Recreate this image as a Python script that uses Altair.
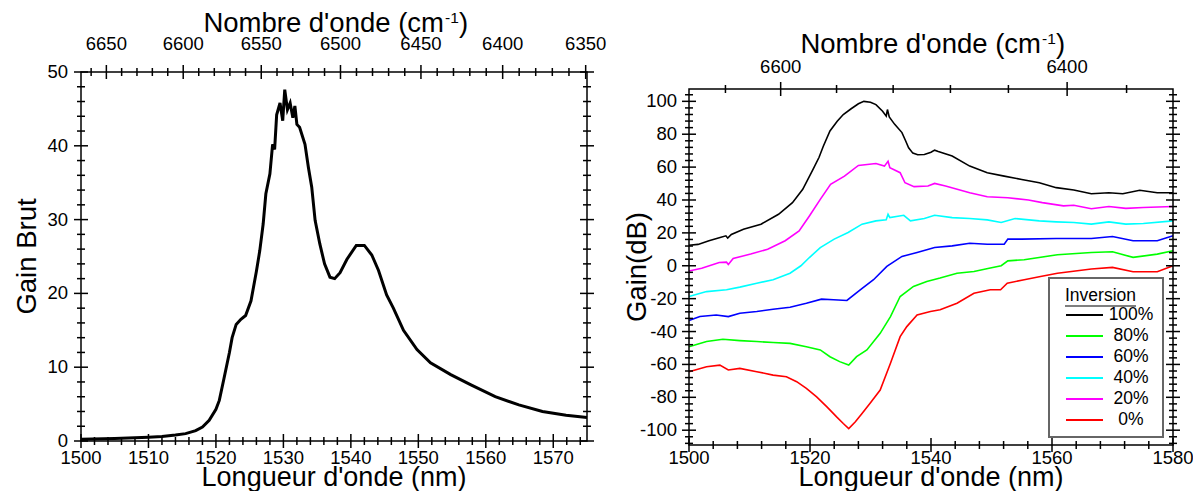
import altair as alt
import pandas as pd

FONT = "Liberation Sans"

# ---------------- data: left panel (Gain Brut) ----------------
wl_brut = [1500, 1505, 1510, 1512, 1514, 1515.5, 1517, 1518, 1519, 1520, 1520.5, 1521.2,
           1522, 1522.4, 1523, 1523.7, 1524.4, 1525.2, 1526, 1526.5, 1527, 1527.4, 1528,
           1528.4, 1528.7, 1529, 1529.5, 1529.9, 1530.2, 1530.6, 1531, 1531.4, 1531.7, 1532,
           1532.4, 1533.2, 1533.7, 1534.2, 1534.7, 1535.4, 1536.1, 1536.9, 1537.6, 1538.4,
           1539.4, 1540.8, 1542, 1543.1, 1544.1, 1545.3, 1546.3, 1547.8, 1549.8, 1551.8,
           1554.8, 1557.8, 1561.4, 1564.9, 1568.4, 1571.9, 1575]
gain_brut = [0.25, 0.35, 0.5, 0.6, 0.8, 1.0, 1.4, 1.9, 2.8, 4.3, 5.5, 8.5,
             12.0, 14.0, 15.8, 16.5, 17.0, 19.0, 23.0, 25.8, 29.4, 33.5, 36.2,
             40.2, 39.5, 44.2, 45.8, 43.4, 47.6, 44.9, 45.8, 43.8, 45.4, 42.9,
             42.5, 40.2, 37.1, 34.4, 29.9, 26.7, 24.0, 22.2, 22.0, 22.8,
             24.6, 26.5, 26.5, 25.2, 23.1, 19.8, 18.0, 15.0, 12.4, 10.6,
             9.0, 7.6, 6.0, 4.9, 4.0, 3.5, 3.2]

# ---------------- data: right panel (Gain dB) ----------------
wl_100 = [1500, 1501.5, 1503.3, 1505, 1506.1, 1506.4, 1507, 1509, 1511.9, 1514.8, 1517.1,
          1518.8, 1520.5, 1521.5, 1522.2, 1523.3, 1524.5, 1525.5, 1526.8, 1528, 1528.9, 1530,
          1530.9, 1532, 1532.6, 1532.8, 1533.1, 1534, 1535.2, 1535.8, 1536.3, 1537, 1537.8,
          1538.9, 1540, 1540.6, 1541.2, 1543.5, 1546.4, 1549.3, 1552.1, 1555, 1557.9,
          1560.7, 1563.6, 1566.5, 1569.4, 1571.7, 1574.5, 1577.4, 1580]
g_100 = [12.5, 13, 15.2, 17, 18.2, 16.8, 19, 22.2, 25.3, 31.3, 38.4,
         46.5, 58.6, 66, 72.7, 82, 87.9, 92, 95.5, 98.5, 100, 99.5,
         98, 94, 91, 95, 90.5, 86, 81, 76, 71.7, 68.5, 67.5,
         67.7, 69, 70.3, 69.5, 66.7, 60.6, 56.6, 54.5, 52.5, 50.5,
         47.5, 46.1, 43.8, 44.4, 43.8, 45.9, 44.4, 44.4]

wl_20 = [1500, 1502.1, 1505, 1506.2, 1506.5, 1507.3, 1510.2, 1513, 1515.9, 1518.2, 1519.9,
         1521.7, 1523.4, 1525.7, 1528, 1530.9, 1532.3, 1532.9, 1533.2, 1534.9, 1535.7, 1537.2,
         1539.5, 1540.6, 1542.4, 1546.4, 1549.3, 1552.7, 1556.1, 1558.4, 1561.9, 1563.6,
         1566.5, 1569.4, 1572.2, 1575.1, 1580]
g_20 = [-3.2, -1.5, 2, 2.2, 0.8, 4.4, 7.1, 10.1, 15.2, 21.2, 30.3,
        40.4, 49.5, 54.5, 61, 62.2, 60.6, 63.6, 59.6, 56.6, 50.5, 48.1,
        48.5, 50.1, 48.5, 44.4, 42, 41.4, 40, 38.4, 36.4, 36.8,
        34.7, 36, 34.9, 35.4, 36]

wl_40 = [1500, 1502.9, 1506.2, 1508.4, 1511.2, 1513.9, 1516.7, 1518.5, 1519.9, 1521.7, 1524,
         1526.3, 1528.6, 1530.9, 1532.6, 1532.9, 1533.2, 1535.5, 1536.6, 1538.9, 1540.6,
         1543.5, 1546.4, 1549.3, 1551.6, 1553.9, 1557.9, 1560.7, 1563.6, 1566.5, 1569.4,
         1572.2, 1575.1, 1580]
g_40 = [-18.7, -15.7, -14.6, -13, -10.6, -8.5, -4.5, 0, 5, 11, 16.2,
        20.2, 25.3, 27.3, 28, 31.3, 29.3, 30.7, 27.3, 28.7, 30.7,
        29.3, 28.7, 27.9, 26.3, 28.7, 27.3, 26.7, 26.3, 25.3, 26.7,
        25.3, 25.7, 27.3]

wl_60 = [1500, 1501.8, 1504.5, 1506.5, 1508.4, 1511.2, 1513.9, 1516.7, 1519.4, 1521.9,
         1523.9, 1526.1, 1528.3, 1530.5, 1532.7, 1535.2, 1537.7, 1540.6, 1543.5, 1546.4,
         1549.3, 1552.1, 1552.7, 1555, 1560.7, 1566.5, 1570, 1573.4, 1577.4, 1580]
g_60 = [-33.3, -30.9, -29.9, -30.9, -28.9, -27.8, -26.4, -25.2, -22.8, -20.3,
        -20.7, -21.1, -14.6, -8.5, -0.4, 5.7, 8.1, 11.1, 12.1, 13.7,
        13.1, 13.1, 16.2, 16.2, 16.6, 16.6, 17.8, 15.2, 15.2, 18.2]

wl_80 = [1500, 1502.9, 1505.6, 1508.4, 1511.2, 1513.9, 1516.7, 1519.4, 1521.7, 1523.3,
         1524.9, 1526.4, 1527.7, 1529.4, 1531.6, 1533.3, 1534.9, 1537.1, 1539.3, 1541.5,
         1544.3, 1547.1, 1549.8, 1551.6, 1552.7, 1555.4, 1560.9, 1566.5, 1570, 1573.4,
         1577.4, 1580]
g_80 = [-49.2, -46.1, -44.7, -45.5, -46.1, -46.7, -47.2, -49.2, -51.2, -55.3,
        -58.3, -60.4, -55.3, -51.2, -41.1, -30.9, -18.7, -12.6, -9.6, -7.5,
        -4.5, -3.5, -1.4, 0, 3, 3.7, 6.7, 8.1, 8.5, 5.1,
        7.1, 9.1]

wl_0 = [1500, 1502.9, 1505.1, 1506.5, 1508.4, 1511.2, 1513.9, 1516.1, 1517.8, 1519.4,
        1521.1, 1522.8, 1524.4, 1525.5, 1526.4, 1527.5, 1528.6, 1529.9, 1531.6, 1533.3,
        1534.9, 1536, 1537.7, 1539.9, 1541.5, 1544.3, 1547.1, 1549.8, 1551.5, 1552.6,
        1555.4, 1558.1, 1560.9, 1566.5, 1570, 1573.4, 1577.4, 1580]
g_0 = [-64.4, -61.4, -60.4, -63.4, -62.4, -64.4, -66.5, -67.5, -70.5, -74.6,
       -79.7, -85.8, -91.9, -95.9, -99, -94.9, -89.8, -83.7, -75.6, -59.3,
       -43.1, -37, -29.9, -27.8, -26.8, -22.8, -16.7, -14.6, -14.6, -10.6,
       -8.5, -6.5, -4.5, -2, -1, -3.6, -3.6, 0]

series_names = ["100%", "80%", "60%", "40%", "20%", "0%"]
series_colors = ["#000000", "#00ff00", "#0000ff", "#00ffff", "#ff00ff", "#ff0000"]
series_wl = [wl_100, wl_80, wl_60, wl_40, wl_20, wl_0]
series_g = [g_100, g_80, g_60, g_40, g_20, g_0]

# ---------------- tick values ----------------
L_X_MAJOR = [1500, 1510, 1520, 1530, 1540, 1550, 1560, 1570]
L_X_MINOR = [v for v in range(1502, 1576, 2) if v % 10]
L_Y_MAJOR = [0, 10, 20, 30, 40, 50]
L_Y_MINOR = [v for v in range(2, 50, 2) if v % 10]
L_NU_MAJOR = [6650, 6600, 6550, 6500, 6450, 6400, 6350]
L_NU_MINOR = [v for v in range(6660, 6349, -10) if v % 50]

R_X_MAJOR = [1500, 1520, 1540, 1560, 1580]
R_X_MINOR = [v for v in range(1504, 1580, 4) if v % 20]
R_Y_MAJOR = [-100, -80, -60, -40, -20, 0, 20, 40, 60, 80, 100]
R_Y_MINOR = [v for v in range(-108, 108, 4) if v % 20]
R_NU_MAJOR = [6600, 6400]
R_NU_MINOR = [6640, 6560, 6520, 6480, 6440, 6360]

L_XDOM, L_YDOM = [1500, 1575], [0, 50]
R_XDOM, R_YDOM = [1500, 1580], [-109, 107.5]

# ---------------- layout (pixels inside the view) ----------------
W, H = 1185, 483
L_XR, L_YR = [73, 579], [433, 64]
R_XR, R_YR = [681, 1165], [437, 81]
MAJ, MIN = 7, 4
TW = 1.5
TICK_FS = 18.5
TITLE_FS = 27.5
XTITLE_FS = 27


def xticks(vals, xs, y0, half, nu=False):
    ch = alt.Chart(pd.DataFrame({"v": vals}))
    f = "v"
    if nu:
        ch = ch.transform_calculate(wl="1e7/datum.v")
        f = "wl"
    return ch.mark_rule(color="black", strokeWidth=TW).encode(
        x=alt.X(f"{f}:Q", scale=xs, axis=None),
        y=alt.value(y0 - half), y2=alt.value(y0 + half))


def yticks(vals, ys, x0, half):
    return alt.Chart(pd.DataFrame({"v": vals})).mark_rule(color="black", strokeWidth=TW).encode(
        y=alt.Y("v:Q", scale=ys, axis=None),
        x=alt.value(x0 - half), x2=alt.value(x0 + half))


def xlabels(vals, xs, y, nu=False, size=TICK_FS):
    ch = alt.Chart(pd.DataFrame({"v": vals, "t": [str(v) for v in vals]}))
    f = "v"
    if nu:
        ch = ch.transform_calculate(wl="1e7/datum.v")
        f = "wl"
    return ch.mark_text(font=FONT, fontSize=size, align="center", baseline="middle", color="black").encode(
        x=alt.X(f"{f}:Q", scale=xs, axis=None), y=alt.value(y), text="t:N")


def ylabels(vals, ys, x, size=TICK_FS):
    return alt.Chart(pd.DataFrame({"v": vals, "t": [str(v) for v in vals]})).mark_text(
        font=FONT, fontSize=size, align="right", baseline="middle", color="black").encode(
        y=alt.Y("v:Q", scale=ys, axis=None), x=alt.value(x), text="t:N")


def frame(xs, ys, xd, yd):
    df = pd.DataFrame({"x0": [xd[0]], "x1": [xd[1]], "y0": [yd[0]], "y1": [yd[1]]})
    return alt.Chart(df).mark_rect(fillOpacity=0, stroke="black", strokeWidth=TW).encode(
        x=alt.X("x0:Q", scale=xs, axis=None), x2="x1:Q",
        y=alt.Y("y0:Q", scale=ys, axis=None), y2="y1:Q")


def text(t, x, y, size, angle=0, align="center", baseline="middle"):
    return alt.Chart(pd.DataFrame({"t": [t]})).mark_text(
        font=FONT, fontSize=size, align=align, baseline=baseline, angle=angle, color="black").encode(
        x=alt.value(x), y=alt.value(y), text="t:N")


def nu_title(cx, yb):
    # "Nombre d'onde (cm" + superscript "-1" + ")"; yb = alphabetic baseline
    return [text("Nombre d'onde (cm", cx + 110, yb, TITLE_FS, align="right", baseline="alphabetic"),
            text("-1", cx + 111, yb - 9, 15.5, align="left", baseline="alphabetic"),
            text(")", cx + 125, yb, TITLE_FS, align="left", baseline="alphabetic")]


def axes_decor(xs, ys, xd, yd, xr, yr, xmaj, xmin, ymaj, ymin, numaj, numin):
    bottom, top = yr[0], yr[1]
    left, right = xr[0], xr[1]
    return [
        frame(xs, ys, xd, yd),
        xticks(xmaj, xs, bottom, MAJ), xticks(xmin, xs, bottom, MIN),
        xticks(numaj, xs, top, MAJ, nu=True), xticks(numin, xs, top, MIN, nu=True),
        yticks(ymaj, ys, left, MAJ), yticks(ymin, ys, left, MIN),
        yticks(ymaj, ys, right, MAJ), yticks(ymin, ys, right, MIN),
    ]


# ---------------- left panel ----------------
lxs = alt.Scale(domain=L_XDOM, range=L_XR, nice=False, zero=False)
lys = alt.Scale(domain=L_YDOM, range=L_YR, nice=False, zero=False)
left_line = alt.Chart(pd.DataFrame({"wl": wl_brut, "g": gain_brut})).mark_line(
    color="black", strokeWidth=3).encode(
    x=alt.X("wl:Q", scale=lxs, axis=None), y=alt.Y("g:Q", scale=lys, axis=None))
lcx = (L_XR[0] + L_XR[1]) / 2
left = alt.layer(
    left_line,
    *axes_decor(lxs, lys, L_XDOM, L_YDOM, L_XR, L_YR, L_X_MAJOR, L_X_MINOR,
                L_Y_MAJOR, L_Y_MINOR, L_NU_MAJOR, L_NU_MINOR),
    xlabels(L_X_MAJOR, lxs, 450),
    ylabels(L_Y_MAJOR, lys, 60),
    xlabels(L_NU_MAJOR, lxs, 36, nu=True),
    text("Longueur d'onde (nm)", lcx, 477.5, XTITLE_FS, baseline="alphabetic"),
    text("Gain Brut", 20, (L_YR[0] + L_YR[1]) / 2, TITLE_FS, angle=270),
    *nu_title(lcx, 24),
)

# ---------------- right panel ----------------
rxs = alt.Scale(domain=R_XDOM, range=R_XR, nice=False, zero=False)
rys = alt.Scale(domain=R_YDOM, range=R_YR, nice=False, zero=False)
rows = []
for name, wls, gs in zip(series_names, series_wl, series_g):
    for w_, g_ in zip(wls, gs):
        rows.append({"wl": w_, "g": g_, "s": name})
right_lines = alt.Chart(pd.DataFrame(rows)).mark_line(strokeWidth=1.6).encode(
    x=alt.X("wl:Q", scale=rxs, axis=None),
    y=alt.Y("g:Q", scale=rys, axis=None),
    color=alt.Color("s:N", scale=alt.Scale(domain=series_names, range=series_colors), legend=None),
    detail="s:N")
rcx = (R_XR[0] + R_XR[1]) / 2
right = alt.layer(
    right_lines,
    *axes_decor(rxs, rys, R_XDOM, R_YDOM, R_XR, R_YR, R_X_MAJOR, R_X_MINOR,
                R_Y_MAJOR, R_Y_MINOR, R_NU_MAJOR, R_NU_MINOR),
    xlabels(R_X_MAJOR, rxs, 450),
    ylabels(R_Y_MAJOR, rys, 669),
    xlabels(R_NU_MAJOR, rxs, 59, nu=True),
    text("Longueur d'onde (nm)", rcx, 477.5, XTITLE_FS, baseline="alphabetic"),
    text("Gain(dB)", 630, (R_YR[0] + R_YR[1]) / 2, TITLE_FS, angle=270),
    *nu_title(rcx, 45),
)

# ---------------- legend (manual box) ----------------
leg_df = pd.DataFrame({"s": series_names, "row": list(range(len(series_names)))})
leg_y = alt.Scale(domain=[0, 5], range=[307, 412])
leg_box = alt.Chart(pd.DataFrame({"a": [0]})).mark_rect(
    fill="white", stroke="#666666", strokeWidth=2).encode(
    x=alt.value(1041), x2=alt.value(1155), y=alt.value(270), y2=alt.value(429))
leg_lines = alt.Chart(leg_df).mark_rule(strokeWidth=2).encode(
    y=alt.Y("row:Q", scale=leg_y, axis=None),
    x=alt.value(1058), x2=alt.value(1095),
    color=alt.Color("s:N", scale=alt.Scale(domain=series_names, range=series_colors), legend=None))
leg_text = alt.Chart(leg_df).mark_text(font=FONT, fontSize=17.5, align="center", baseline="middle",
                                       color="black").encode(
    y=alt.Y("row:Q", scale=leg_y, axis=None), x=alt.value(1123), text="s:N")
leg_title = text("Inversion", 1057, 288, 17.5, align="left")
leg_ul = alt.Chart(pd.DataFrame({"a": [0]})).mark_rule(color="black", strokeWidth=1.2).encode(
    x=alt.value(1057), x2=alt.value(1128), y=alt.value(298))
legend = alt.layer(leg_box, leg_lines, leg_text, leg_title, leg_ul)

chart = alt.layer(left, right, legend).resolve_scale(
    x="independent", y="independent", color="independent"
).properties(width=W, height=H, autosize="none", padding=0).configure_view(strokeWidth=0)

chart.save("out.html", embed_options={"renderer": "svg", "actions": False})
